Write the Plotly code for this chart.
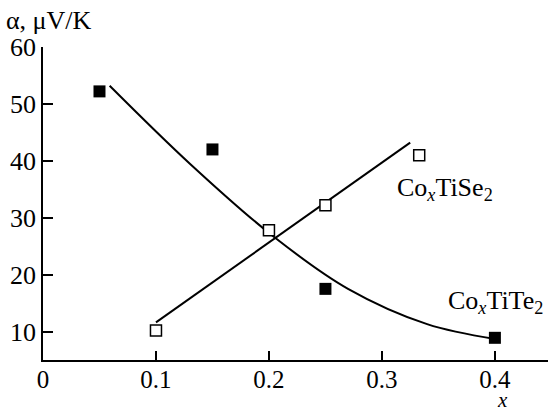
import plotly.graph_objects as go

# Measured data
te_x = [0.05, 0.15, 0.25, 0.40]
te_y = [52.2, 42.0, 17.5, 8.9]
se_x = [0.10, 0.20, 0.25, 0.333]
se_y = [10.2, 27.8, 32.2, 41.0]

# Fitted curves (as drawn)
te_fit_x = [0.059, 0.13, 0.204, 0.27, 0.34, 0.40]
te_fit_y = [53.2, 39.5, 26.7, 17.5, 11.3, 8.7]
se_fit_x = [0.10, 0.325]
se_fit_y = [11.6, 43.2]

x_ticks = [0, 0.1, 0.2, 0.3, 0.4]
x_tick_labels = ["0", "0.1", "0.2", "0.3", "0.4"]
y_ticks = [10, 20, 30, 40, 50, 60]

FONT = "Liberation Serif"
FS = 26

fig = go.Figure()
fig.add_trace(go.Scatter(x=te_fit_x, y=te_fit_y, mode="lines",
                         line=dict(color="black", width=2, shape="spline", smoothing=1.0),
                         showlegend=False, hoverinfo="skip"))
fig.add_trace(go.Scatter(x=se_fit_x, y=se_fit_y, mode="lines",
                         line=dict(color="black", width=2),
                         showlegend=False, hoverinfo="skip"))
fig.add_trace(go.Scatter(x=te_x, y=te_y, mode="markers",
                         marker=dict(symbol="square", size=12, color="black",
                                     line=dict(width=0)),
                         showlegend=False))
fig.add_trace(go.Scatter(x=se_x, y=se_y, mode="markers",
                         marker=dict(symbol="square", size=11, color="white",
                                     line=dict(width=1.5, color="black")),
                         showlegend=False))

fig.update_layout(
    width=548, height=413,
    margin=dict(l=43, r=0, t=47, b=53),
    paper_bgcolor="white", plot_bgcolor="white",
    font=dict(family=FONT, size=FS, color="black"),
    xaxis=dict(range=[0, 0.447], tickvals=x_ticks, ticktext=x_tick_labels,
               showline=True, linecolor="black", linewidth=1.5,
               ticks="inside", ticklen=9, tickwidth=1.5, tickcolor="black",
               showgrid=False, zeroline=False, ticklabelstandoff=-4,
               tickfont=dict(family=FONT, size=25, color="black")),
    yaxis=dict(range=[5, 60], tickvals=y_ticks,
               showline=True, linecolor="black", linewidth=1.5,
               ticks="inside", ticklen=10, tickwidth=1.5, tickcolor="black",
               showgrid=False, zeroline=False,
               tickfont=dict(family=FONT, size=FS, color="black")),
    annotations=[
        dict(text="α, μV/K", xref="paper", yref="paper", x=-0.078, y=1.0,
             yshift=27, xanchor="left", yanchor="middle", showarrow=False,
             font=dict(family=FONT, size=FS, color="black")),
        dict(text="<i>x</i>", xref="x", yref="paper", x=0.4, y=0,
             yshift=-53, xshift=8, xanchor="center", yanchor="bottom", showarrow=False,
             borderpad=0, font=dict(family=FONT, size=21, color="black")),
        dict(text="Co<sub><i>x</i></sub>TiSe<sub>2</sub>", xref="x", yref="y",
             x=0.312, y=35.0, xanchor="left", yanchor="middle", showarrow=False,
             font=dict(family=FONT, size=FS, color="black")),
        dict(text="Co<sub><i>x</i></sub>TiTe<sub>2</sub>", xref="x", yref="y",
             x=0.357, y=15.2, xanchor="left", yanchor="middle", showarrow=False,
             font=dict(family=FONT, size=FS, color="black")),
    ],
)

fig.write_html("out.html")
